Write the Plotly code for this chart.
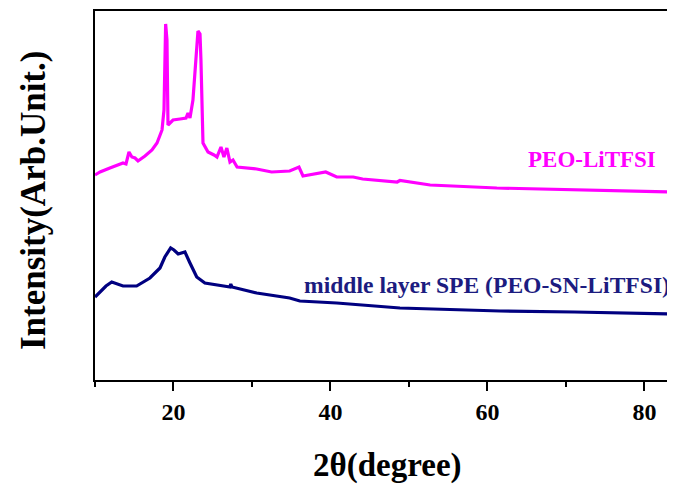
import plotly.graph_objects as go

# PEO-LiTFSI pattern (2theta in degrees, intensity in arbitrary units)
peo_x = [10.0, 10.64, 11.9, 13.57, 13.95, 14.33, 14.7, 15.1, 15.48, 16.37, 17.26, 17.9,
         18.54, 18.79, 19.0, 19.17, 19.3, 19.94, 20.83, 21.6, 21.85, 22.1, 22.48, 22.87,
         23.12, 23.38, 23.5, 23.76, 24.4, 25.16, 25.54, 26.05, 26.43, 26.8, 27.2, 27.58,
         28.1, 30.6, 32.5, 34.8, 35.99, 36.5, 39.4, 40.8, 42.9, 44.1, 48.5, 48.85, 52.7,
         61.2, 71.1, 83.9]
peo_y = [205, 208, 212, 217, 216, 228, 223, 222, 219, 224, 230, 237,
         250, 270, 356, 340, 255, 260, 261, 262, 267, 262, 280, 320,
         349, 346, 320, 237, 228, 225, 223, 233, 223, 232, 218, 220,
         213, 211, 208, 209, 213, 204, 208, 203, 203, 201, 198, 199.5, 195,
         192, 190, 188]

# middle layer SPE (PEO-SN-LiTFSI) pattern
spe_x = [10.0, 10.64, 11.4, 12.13, 12.8, 13.57, 15.3, 17.0, 18.28, 18.9, 19.64, 20.06,
         20.6, 21.46, 22.1, 22.96, 24.0, 27.2, 27.3, 27.45, 30.6, 34.8, 36.1, 40.8,
         48.85, 61.6, 71.1, 83.9]
spe_y = [83, 88, 94, 98, 96, 94, 94, 102, 112, 123, 132, 130,
         126, 128, 117, 103, 97, 93, 96, 93, 87, 82, 79, 77,
         72, 69, 68, 66]

x_major_ticks = [20, 40, 60, 80]
x_minor_ticks = [10, 30, 50, 70]

FONT = "Liberation Serif, Times New Roman, serif"
PINK = "#FF00FF"
NAVY = "#000080"

fig = go.Figure()
fig.add_trace(go.Scatter(x=peo_x, y=peo_y, mode="lines",
                         line=dict(color=PINK, width=3.2), showlegend=False))
fig.add_trace(go.Scatter(x=spe_x, y=spe_y, mode="lines",
                         line=dict(color=NAVY, width=3.2), showlegend=False))

# the page body adds an 8px offset, so the figure is sized to the visible area
fig.update_layout(
    width=667, height=480,
    margin=dict(l=87, r=0, t=3, b=108, autoexpand=False),
    paper_bgcolor="white", plot_bgcolor="white",
    font=dict(family=FONT, color="black"),
    xaxis=dict(range=[10, 83.9], showline=True, linecolor="black", linewidth=2,
               mirror=True, showgrid=False, zeroline=False, automargin=False,
               ticks="outside", ticklen=9, tickwidth=2, tickcolor="black",
               tickvals=x_major_ticks, ticktext=[str(v) for v in x_major_ticks],
               tickfont=dict(family=FONT, size=24, weight="bold", color="black"),
               minor=dict(tickvals=x_minor_ticks, ticks="outside", ticklen=5,
                          tickwidth=2, tickcolor="black", showgrid=False)),
    yaxis=dict(range=[0, 369], showline=True, linecolor="black", linewidth=2,
               mirror=False, showgrid=False, zeroline=False, automargin=False,
               showticklabels=False, ticks=""),
    annotations=[
        dict(text="2θ(degree)", xref="paper", yref="paper", x=0.505, y=0,
             yshift=-85, xanchor="center", yanchor="middle", showarrow=False,
             font=dict(family=FONT, size=33, weight="bold", color="black")),
        dict(text="Intensity(Arb.Unit.)", xref="paper", yref="paper", x=0, y=0.485,
             xshift=-62, xanchor="center", yanchor="middle", textangle=-90,
             showarrow=False,
             font=dict(family=FONT, size=35, weight="bold", color="black")),
        dict(text="PEO-LiTFSI", xref="x", yref="y", x=73.3, y=221,
             xanchor="center", yanchor="middle", showarrow=False,
             font=dict(family=FONT, size=23, weight="bold", color=PINK)),
        dict(text="middle layer SPE (PEO-SN-LiTFSI)", xref="x", yref="y", x=59.9, y=95,
             xanchor="center", yanchor="middle", showarrow=False,
             font=dict(family=FONT, size=23.6, weight="bold", color="#1C1C80")),
    ],
)

fig.write_html("out.html")
